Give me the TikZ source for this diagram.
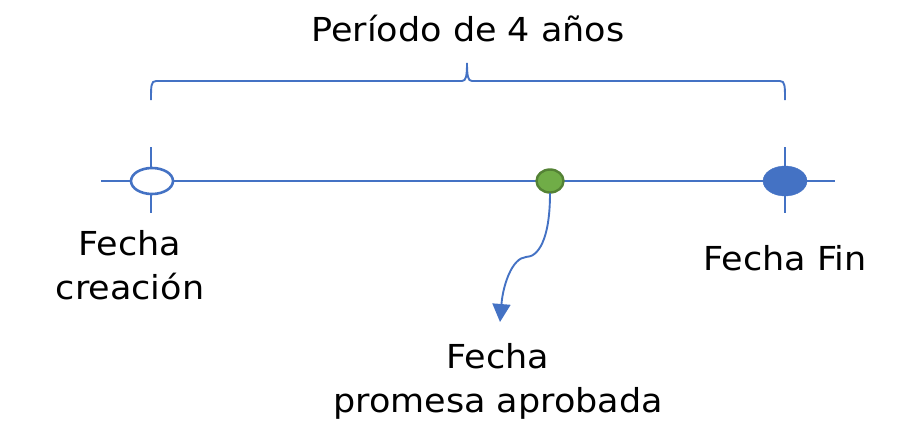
\documentclass[tikz,border=0pt]{standalone}
\usepackage{fontspec}
\setmainfont[FakeStretch=1.06]{DejaVu Sans}
\usetikzlibrary{calc}
\usetikzlibrary{positioning}
\usetikzlibrary{arrows.meta}
\definecolor{lineblue}{HTML}{4472C4}
\definecolor{dotgreen}{HTML}{70AD47}
\definecolor{dotedge}{HTML}{548235}

\begin{document}
\begin{tikzpicture}[x=1pt,y=-1pt]
\tikzstyle{label}=[align=center,font=\fontsize{33}{44}\selectfont,text=black,inner sep=0pt]
\tikzstyle{rule}=[lineblue,line width=1.9pt]
\useasboundingbox (0,0) rectangle (912,442);
% time axis
\coordinate (axisL) at (101,181);
\coordinate (axisR) at (835,181);
\draw[rule] (axisL) -- (axisR);
\coordinate (tickLt) at (151,147);
\coordinate (tickLb) at (151,213);
\coordinate (tickRt) at (785,147);
\coordinate (tickRb) at (785,213);
\draw[rule] (tickLt) -- (tickLb);
\draw[rule] (tickRt) -- (tickRb);
% dates
\draw[lineblue,line width=2.6pt,fill=white] (152,181) ellipse (21 and 13);
\node[circle,inner sep=0pt,minimum size=26pt] at(152,181) (start) {};
\draw[dotedge,line width=2.4pt,fill=dotgreen] (550,181) ellipse (13.5 and 11.5);
\node[circle,inner sep=0pt,minimum size=24pt] at(550,181) (promise) {};
\draw[lineblue,fill=lineblue] (785,181) ellipse (22 and 15);
\node[circle,inner sep=0pt,minimum size=30pt] at(785,181) (end) {};
% brace
\draw[rule] (151,100) .. controls (151,86) and (151,81) .. (156,81)
  -- (462,81) .. controls (466,81) and (467,76) .. (467,63)
  .. controls (467,76) and (468,81) .. (472,81)
  -- (780,81) .. controls (785,81) and (785,86) .. (785,100);
% labels
\node[label] at(468,29) (period) {Período de 4 años};
\node[label] at(130,265) (created) {Fecha\\creación};
\node[label] at(785,258) (finish) {Fecha Fin};
\node[label] at(498,381) (approved) {Fecha\\promesa aprobada};
% arrow
\coordinate (tip) at (500,322);
\draw[rule,-{Triangle[length=18pt,width=18pt]}] (promise.south)
  .. controls (550,240) and (538,257) .. (526,257)
  .. controls (512,258) and (503,285) .. (tip);
\end{tikzpicture}
\end{document}
